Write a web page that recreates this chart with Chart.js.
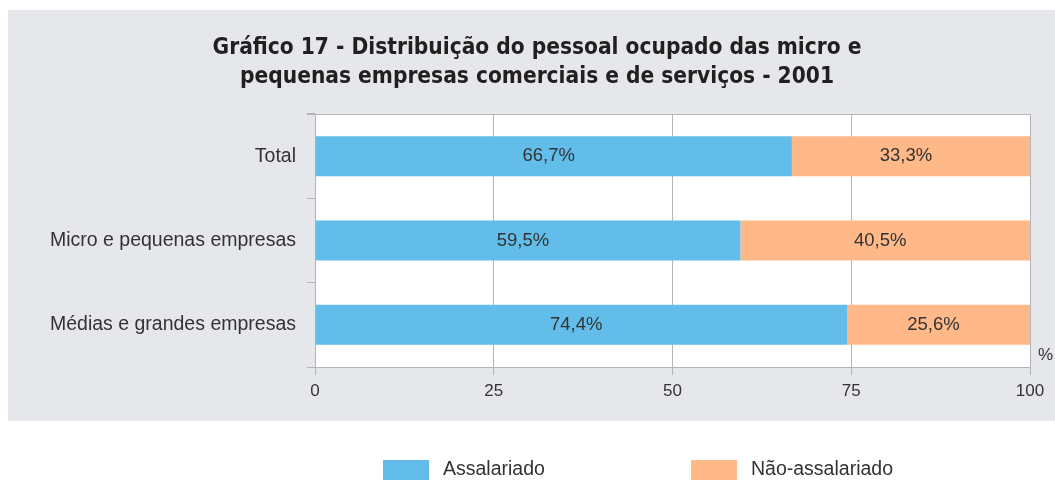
<!DOCTYPE html>
<html>
<head>
<meta charset="utf-8">
<script src="https://cdn.jsdelivr.net/npm/chart.js@4.4.0/dist/chart.umd.min.js"></script>
<style>
  html, body { margin: 0; padding: 0; background: #fff; }
  #wrap { width: 1055px; height: 480px; position: relative; }
</style>
</head>
<body>
<div id="wrap"><canvas id="grafico" width="1055" height="480"></canvas></div>
<script>
const categorias = ['Total', 'Micro e pequenas empresas', 'Médias e grandes empresas'];
const assalariado = [66.7, 59.5, 74.4];
const naoAssalariado = [33.3, 40.5, 25.6];
const ticksX = [0, 25, 50, 75, 100];
const tituloLinhas = [
    'Gráfico 17 - Distribuição do pessoal ocupado das micro e',
    'pequenas empresas comerciais e de serviços - 2001'
];

const corAzul = '#62bdea';
const corLaranja = '#ffb989';
const corGrade = '#b4b5b8';
const corTexto = '#333333';
const fonte = '"Liberation Sans", Arial, sans-serif';

// fundo cinza, titulo e area do grafico branca
const fundoPlugin = {
    id: 'fundo',
    beforeDraw(chart) {
        const c = chart.ctx;
        const a = chart.chartArea;
        c.save();
        c.fillStyle = '#e6e7eb';
        c.fillRect(8, 10, 1047, 411);
        c.fillStyle = '#ffffff';
        c.fillRect(a.left, a.top, a.right - a.left, a.bottom - a.top);
        c.fillStyle = '#231f20';
        c.font = 'bold 22.5px "DejaVu Sans Condensed", "Liberation Sans Narrow", sans-serif';
        c.textAlign = 'center';
        c.textBaseline = 'middle';
        c.fillText(tituloLinhas[0], 537, 48);
        c.fillText(tituloLinhas[1], 537, 77);
        c.restore();
    },
    afterDatasetsDraw(chart) {
        const c = chart.ctx;
        const a = chart.chartArea;
        c.save();
        c.strokeStyle = corGrade;
        c.lineWidth = 1;
        c.beginPath();
        c.moveTo(a.left - 8, a.top + 0.5);
        c.lineTo(a.right, a.top + 0.5);
        c.stroke();
        // rotulos dos valores
        c.fillStyle = corTexto;
        c.font = '18.5px ' + fonte;
        c.textAlign = 'center';
        c.textBaseline = 'middle';
        chart.data.datasets.forEach((ds, i) => {
            chart.getDatasetMeta(i).data.forEach((bar, j) => {
                const p = bar.getProps(['x', 'y', 'base']);
                const txt = ds.data[j].toFixed(1).replace('.', ',') + '%';
                c.fillText(txt, (p.x + p.base) / 2 - 5, p.y);
            });
        });
        // simbolo % no fim do eixo
        c.font = '17px ' + fonte;
        c.textAlign = 'left';
        c.fillText('%', a.right + 8, a.bottom - 12);
        // legenda
        c.font = '19.5px ' + fonte;
        const itens = [
            { x: 383, cor: corAzul, texto: chart.data.datasets[0].label },
            { x: 691, cor: corLaranja, texto: chart.data.datasets[1].label }
        ];
        itens.forEach(it => {
            c.fillStyle = it.cor;
            c.fillRect(it.x, 460, 46, 21);
            c.fillStyle = corTexto;
            c.fillText(it.texto, it.x + 60, 470);
        });
        c.restore();
    }
};

new Chart(document.getElementById('grafico').getContext('2d'), {
    type: 'bar',
    data: {
        labels: categorias,
        datasets: [
            { label: 'Assalariado', data: assalariado, backgroundColor: corAzul },
            { label: 'Não-assalariado', data: naoAssalariado, backgroundColor: corLaranja }
        ]
    },
    options: {
        indexAxis: 'y',
        responsive: false,
        animation: false,
        events: [],
        layout: { padding: { top: 114, right: 25, bottom: 73, left: 0 } },
        datasets: { bar: { categoryPercentage: 1, barPercentage: 0.475 } },
        plugins: { legend: { display: false }, tooltip: { enabled: false } },
        scales: {
            x: {
                stacked: true,
                min: 0,
                max: 100,
                afterBuildTicks(scale) { scale.ticks = ticksX.map(v => ({ value: v })); },
                afterFit(scale) { scale.height = 40; },
                grid: { color: corGrade, tickLength: 8, tickColor: corGrade },
                border: { color: corGrade },
                ticks: { color: corTexto, font: { size: 17, family: fonte }, padding: 6, maxRotation: 0 }
            },
            y: {
                stacked: true,
                afterFit(scale) { scale.width = 315; },
                grid: { drawOnChartArea: false, offset: true, tickLength: 8, color: corGrade },
                border: { color: corGrade },
                ticks: { color: corTexto, font: { size: 19.5, family: fonte }, padding: 11 }
            }
        }
    },
    plugins: [fundoPlugin]
});
</script>
</body>
</html>
